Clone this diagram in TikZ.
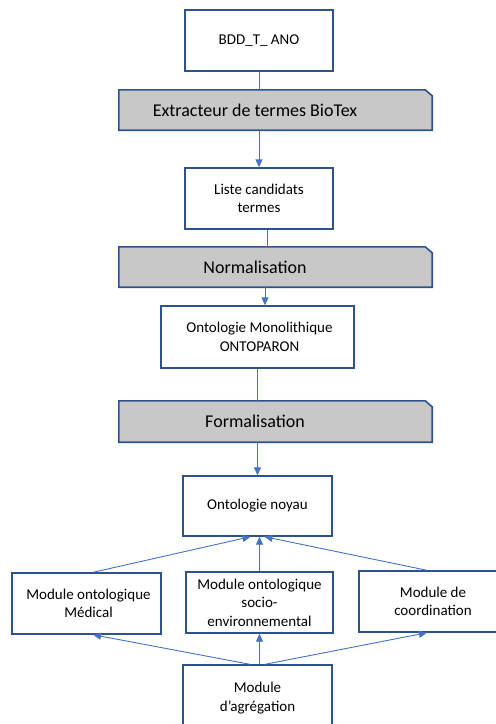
\documentclass[tikz,border=0pt]{standalone}
\usepackage{fontspec}
\setmainfont{Carlito}
\usetikzlibrary{arrows.meta}
\definecolor{boxblue}{HTML}{2F528F}
\definecolor{linkblue}{HTML}{4472C4}
\definecolor{bannergray}{HTML}{C8C8C8}
\tikzset{
  stepbox/.style={draw=boxblue, line width=1.4pt, fill=white, minimum width=#1, inner sep=0pt, align=center, font=\fontsize{15}{18.5}\selectfont, text=black},
  bannerbox/.style={minimum width=313pt, inner sep=0pt},
  bannerline/.style={draw=boxblue, line width=1.6pt, fill=bannergray},
  bannertext/.style={font=\fontsize{18}{22}\selectfont, text=black, inner sep=0pt},
  link/.style={draw=linkblue, line width=0.9pt},
  arr/.style={link, -{Triangle[length=8pt,width=7pt]}}
}
\begin{document}
\begin{tikzpicture}[x=1pt,y=-1pt]
\path[use as bounding box, clip] (0,0) rectangle (496,724);
\fill[white] (0,0) rectangle (496,724);

% process boxes
\node[stepbox=148pt, minimum height=61pt] (b1) at (259,40.5) {BDD\_T\_ ANO};
\node[stepbox=148pt, minimum height=61pt] (b2) at (259,198.5) {Liste candidats\\termes};
\node[stepbox=193pt, minimum height=62pt] (b3) at (257.5,337) {\hspace*{4pt}Ontologie Monolithique\\\hspace*{4pt}ONTOPARON};
\node[stepbox=149pt, minimum height=60pt] (b4) at (257.5,506) {Ontologie noyau};
\node[stepbox=149pt, minimum height=61pt] (med) at (86.5,603.5) {\hspace*{4pt}Module ontologique\\\hspace*{4pt}Médical};
\node[stepbox=147pt, minimum height=61pt] (soc) at (259.5,602.5) {Module ontologique\\socio-\\environnemental};
\node[stepbox=148pt, minimum height=61pt] (coo) at (433,601.5) {Module de\\coordination};
\node[stepbox=149pt, minimum height=66pt] (agr) at (257.5,698) {Module\\d’agrégation};

% banners
\node[bannerbox, minimum height=40pt] (e1) at (275.5,110) {};
\node[bannerbox, minimum height=40pt] (e2) at (275.5,267) {};
\node[bannerbox, minimum height=41pt] (e3) at (275.5,421.5) {};
\foreach \e in {e1,e2,e3}{
  \draw[bannerline] (\e.south west) -- (\e.north west) -- ([xshift=-7pt]\e.north east)
    -- ([yshift=-6pt]\e.north east) -- (\e.south east) -- cycle;
}
\node[bannertext] (t1) at (255,110) {Extracteur de termes BioTex};
\node[bannertext] (t2) at (255,267) {Normalisation};
\node[bannertext] (t3) at (255,421.5) {Formalisation};

% vertical chain
\draw[link] (b1.south) -- (b1.south |- e1.north);
\draw[arr] (b2.north |- e1.south) -- (b2.north);
\draw[link] ([xshift=8pt]b2.south) -- ([xshift=8pt]b2.south |- e2.north);
\draw[arr] ([xshift=7.5pt]b3.north |- e2.south) -- ([xshift=7.5pt]b3.north);
\draw[link] (b3.south) -- (b3.south |- e3.north);
\draw[arr] (b4.north |- e3.south) -- (b4.north);

% modules to core
\draw[arr] ([xshift=6.5pt]med.north) -- ([xshift=-7pt]b4.south);
\draw[arr] (soc.north) -- (soc.north |- b4.south);
\draw[arr] ([xshift=-6pt]coo.north) -- ([xshift=7pt]b4.south);

% aggregation to modules
\draw[arr] ([xshift=-7.5pt]agr.north) -- ([xshift=6.5pt]med.south);
\draw[arr] (soc.south |- agr.north) -- (soc.south);
\draw[arr] ([xshift=7.5pt]agr.north) -- ([xshift=-6pt]coo.south);
\end{tikzpicture}
\end{document}
